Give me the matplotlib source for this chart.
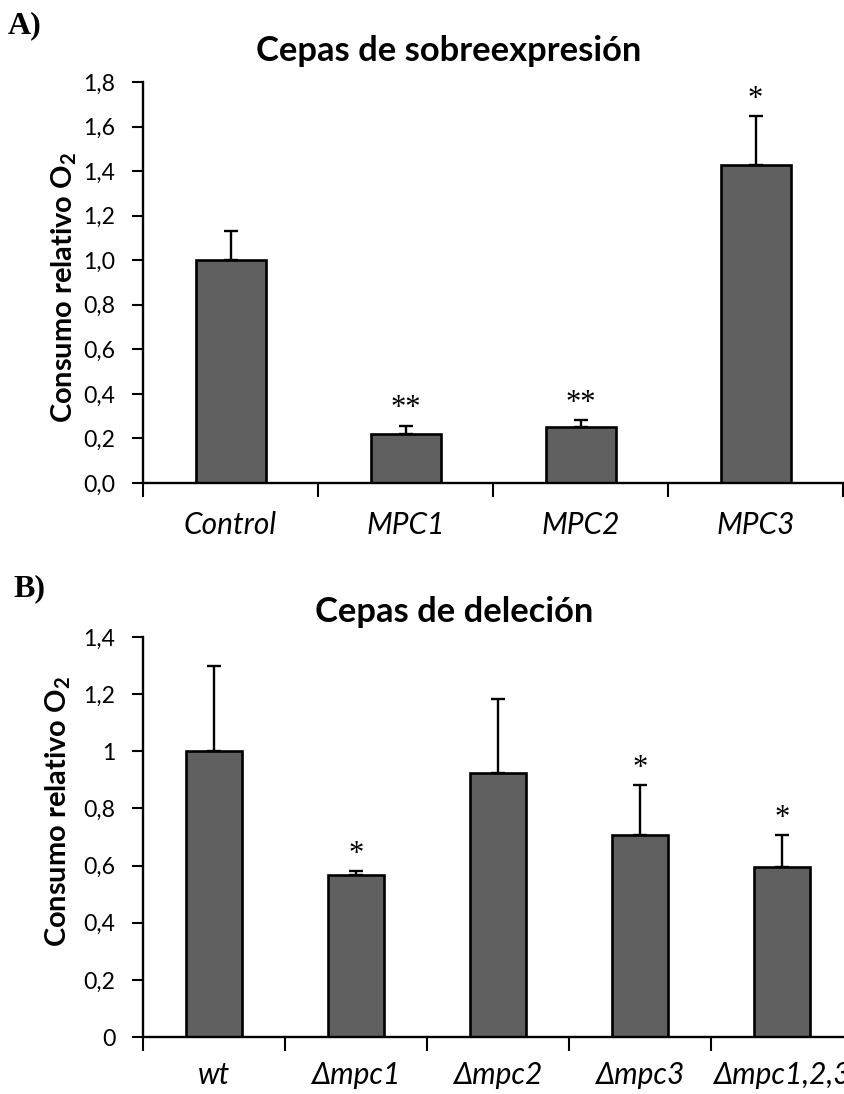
import matplotlib
matplotlib.use("Agg")
import matplotlib.pyplot as plt
import numpy as np

# ---- data ----
cats_a = ["Control", "MPC1", "MPC2", "MPC3"]
vals_a = [1.00, 0.222, 0.252, 1.427]
err_a = [0.132, 0.036, 0.030, 0.220]
sig_a = ["", "**", "**", "*"]
yticks_a = ["0,0", "0,2", "0,4", "0,6", "0,8", "1,0", "1,2", "1,4", "1,6", "1,8"]

cats_b = ["wt", "Δmpc1", "Δmpc2", "Δmpc3", "Δmpc1,2,3"]
vals_b = [1.00, 0.568, 0.923, 0.708, 0.595]
err_b = [0.300, 0.012, 0.259, 0.174, 0.113]
sig_b = ["", "*", "", "*", "*"]
yticks_b = ["0", "0,2", "0,4", "0,6", "0,8", "1", "1,2", "1,4"]

title_a = "Cepas de sobreexpresión"
title_b = "Cepas de deleción"
ylabel = r"Consumo relativo O$_{\mathbf{2}}$"

SANS = "Lato"
plt.rcParams["mathtext.fontset"] = "custom"
plt.rcParams["mathtext.rm"] = SANS
plt.rcParams["mathtext.bf"] = SANS + ":bold"

W, H = 845, 1094
fig = plt.figure(figsize=(W / 100, H / 100), dpi=100)
renderer = fig.canvas.get_renderer()


def fit_size(s, target_px, **kw):
    t = fig.text(0, 0, s, fontsize=20, **kw)
    bb = t.get_window_extent(renderer)
    t.remove()
    return 20 * target_px / bb.width


BAR = "#606060"
tick_fs = fit_size("0,0", 32, family=SANS)
xl_fs = fit_size("Control", 93, family=SANS, style="italic")
title_fs = fit_size(title_a, 385, family=SANS, fontweight="bold")
ylab_fs = fit_size(ylabel, 271, family=SANS, fontweight="bold")


def panel(ax, cats, vals, errs, sigs, tlabels, ymax, xpad):
    n = len(cats)
    x = np.arange(n) + 0.5
    ax.bar(x, vals, width=0.4, color=BAR, edgecolor="black", linewidth=1.9, zorder=2)
    ax.errorbar(x, vals, yerr=[np.zeros(n), errs], fmt="none", ecolor="black",
                elinewidth=1.7, capsize=5, capthick=1.7, zorder=3)
    for xi, v, e, s in zip(x, vals, errs, sigs):
        if s:
            ax.annotate(s, (xi, v + e), xytext=(0, 12), textcoords="offset points",
                        ha="center", va="center", fontsize=22,
                        family="Liberation Serif")
    ax.set_xlim(0, n)
    ax.set_ylim(0, ymax)
    ax.set_xticks(np.arange(n + 1))
    ax.set_xticklabels([])
    ax.set_xticks(x, minor=True)
    ax.set_xticklabels(cats, minor=True, fontsize=xl_fs, family=SANS, style="italic")
    ax.tick_params(axis="x", which="major", direction="out", length=10, width=1.5)
    ax.tick_params(axis="x", which="minor", length=0, pad=xpad)
    yt = np.arange(len(tlabels)) * 0.2
    ax.set_yticks(yt)
    ax.set_yticklabels(tlabels, fontsize=tick_fs, family=SANS)
    ax.tick_params(axis="y", direction="out", length=8, width=1.5, pad=12)
    for sp in ["top", "right"]:
        ax.spines[sp].set_visible(False)
    for sp in ["left", "bottom"]:
        ax.spines[sp].set_linewidth(1.7)
    ax.set_facecolor("none")


ax_a = fig.add_axes([143 / W, 1 - 483 / H, 700 / W, (483 - 82) / H])
panel(ax_a, cats_a, vals_a, err_a, sig_a, yticks_a, 1.8, 20)

ax_b = fig.add_axes([143 / W, 1 - 1037 / H, 710 / W, (1037 - 637) / H])
panel(ax_b, cats_b, vals_b, err_b, sig_b, yticks_b, 1.4, 17)

fig.text(449 / W, 1 - 61 / H, title_a, ha="center", va="baseline",
         fontsize=title_fs, fontweight="bold", family=SANS)
fig.text(454 / W, 1 - 622 / H, title_b, ha="center", va="baseline",
         fontsize=title_fs, fontweight="bold", family=SANS)

fig.text(64 / W, 1 - 287 / H, ylabel, rotation=90, ha="center", va="center",
         fontsize=ylab_fs, fontweight="bold", family=SANS)
fig.text(58 / W, 1 - 811 / H, ylabel, rotation=90, ha="center", va="center",
         fontsize=ylab_fs, fontweight="bold", family=SANS)

fig.text(8 / W, 1 - 33 / H, "A)", ha="left", va="baseline", fontsize=23,
         fontweight="bold", family="Liberation Serif")
fig.text(13 / W, 1 - 596 / H, "B)", ha="left", va="baseline", fontsize=23,
         fontweight="bold", family="Liberation Serif")

fig.savefig("out.png", dpi=100, facecolor="white")
